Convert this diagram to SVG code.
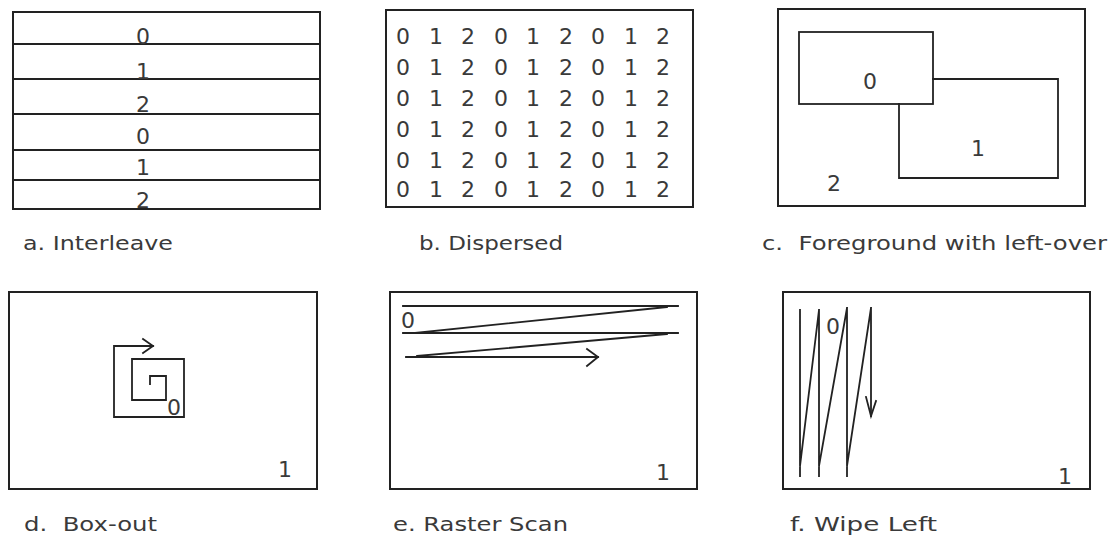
<svg xmlns="http://www.w3.org/2000/svg" width="1120" height="538" viewBox="0 0 1120 538">
  <style>
    .frame { fill: none; stroke: #222; stroke-width: 2; }
    .ln { fill: none; stroke: #222; stroke-width: 1.8; stroke-linecap: square; }
    .num { font-family: "DejaVu Sans", Verdana, sans-serif; font-size: 22px; fill: #3a3a3a; text-anchor: middle; }
    .cap { font-family: "DejaVu Sans", Verdana, sans-serif; font-size: 20px; fill: #3a3a3a; }
  </style>
  <rect width="1120" height="538" fill="#fff"/>

  <!-- a. Interleave -->
  <g id="interleave">
    <rect class="frame" x="13" y="12" width="307" height="197"/>
    <path class="ln" d="M13 44H320M13 79H320M13 114H320M13 150H320M13 180H320"/>
    <text class="num" x="143" y="44">0</text>
    <text class="num" x="143" y="79">1</text>
    <text class="num" x="143" y="112">2</text>
    <text class="num" x="143" y="144">0</text>
    <text class="num" x="143" y="175">1</text>
    <text class="num" x="143" y="208">2</text>
    <text class="cap" x="23" y="250" textLength="150" lengthAdjust="spacingAndGlyphs">a. Interleave</text>
  </g>

  <!-- b. Dispersed -->
  <g id="dispersed">
    <rect class="frame" x="386" y="10" width="307" height="197"/>
    <g class="num">
      <text y="44"><tspan x="403">0</tspan><tspan x="436">1</tspan><tspan x="468">2</tspan><tspan x="501">0</tspan><tspan x="533">1</tspan><tspan x="566">2</tspan><tspan x="598">0</tspan><tspan x="631">1</tspan><tspan x="663">2</tspan></text>
      <text y="75"><tspan x="403">0</tspan><tspan x="436">1</tspan><tspan x="468">2</tspan><tspan x="501">0</tspan><tspan x="533">1</tspan><tspan x="566">2</tspan><tspan x="598">0</tspan><tspan x="631">1</tspan><tspan x="663">2</tspan></text>
      <text y="106"><tspan x="403">0</tspan><tspan x="436">1</tspan><tspan x="468">2</tspan><tspan x="501">0</tspan><tspan x="533">1</tspan><tspan x="566">2</tspan><tspan x="598">0</tspan><tspan x="631">1</tspan><tspan x="663">2</tspan></text>
      <text y="137"><tspan x="403">0</tspan><tspan x="436">1</tspan><tspan x="468">2</tspan><tspan x="501">0</tspan><tspan x="533">1</tspan><tspan x="566">2</tspan><tspan x="598">0</tspan><tspan x="631">1</tspan><tspan x="663">2</tspan></text>
      <text y="168"><tspan x="403">0</tspan><tspan x="436">1</tspan><tspan x="468">2</tspan><tspan x="501">0</tspan><tspan x="533">1</tspan><tspan x="566">2</tspan><tspan x="598">0</tspan><tspan x="631">1</tspan><tspan x="663">2</tspan></text>
      <text y="197"><tspan x="403">0</tspan><tspan x="436">1</tspan><tspan x="468">2</tspan><tspan x="501">0</tspan><tspan x="533">1</tspan><tspan x="566">2</tspan><tspan x="598">0</tspan><tspan x="631">1</tspan><tspan x="663">2</tspan></text>
    </g>
    <text class="cap" x="419" y="250" textLength="144" lengthAdjust="spacingAndGlyphs">b. Dispersed</text>
  </g>

  <!-- c. Foreground with left-over -->
  <g id="foreground">
    <rect class="frame" x="778" y="9" width="307" height="197"/>
    <rect class="ln" x="799" y="32" width="134" height="72"/>
    <path class="ln" d="M933 79H1058V178H899V104"/>
    <text class="num" x="870" y="89">0</text>
    <text class="num" x="978" y="156">1</text>
    <text class="num" x="834" y="191">2</text>
    <text class="cap" x="762" y="250" textLength="345" lengthAdjust="spacingAndGlyphs" xml:space="preserve">c.  Foreground with left-over</text>
  </g>

  <!-- d. Box-out -->
  <g id="boxout">
    <rect class="frame" x="9" y="292" width="308" height="197"/>
    <path class="ln" d="M153 346H114V417H184V359H132V400H166V376H150V384"/>
    <path class="ln" d="M143 339L153 346L143 353"/>
    <text class="num" x="174" y="415">0</text>
    <text class="num" x="285" y="477">1</text>
    <text class="cap" x="24" y="531" textLength="133" lengthAdjust="spacingAndGlyphs" xml:space="preserve">d.  Box-out</text>
  </g>

  <!-- e. Raster Scan -->
  <g id="raster">
    <rect class="frame" x="390" y="292" width="307" height="197"/>
    <path class="ln" d="M403 306H678M415 333L667 307M403 333H678M417 356L667 334M406 357H598"/>
    <path class="ln" d="M587 349L598 357L587 366"/>
    <text class="num" x="408" y="328">0</text>
    <text class="num" x="663" y="480">1</text>
    <text class="cap" x="393" y="531" textLength="175" lengthAdjust="spacingAndGlyphs">e. Raster Scan</text>
  </g>

  <!-- f. Wipe Left -->
  <g id="wipe">
    <rect class="frame" x="783" y="292" width="307" height="197"/>
    <path class="ln" d="M800 310V476M800 466L819 310M819 310V476M819 466L847 308M847 308V476M847 466L871 308M871 308V416"/>
    <path class="ln" d="M866 397L871 416L876 401"/>
    <text class="num" x="833" y="334">0</text>
    <text class="num" x="1065" y="484">1</text>
    <text class="cap" x="790" y="531" textLength="147" lengthAdjust="spacingAndGlyphs">f. Wipe Left</text>
  </g>
</svg>
